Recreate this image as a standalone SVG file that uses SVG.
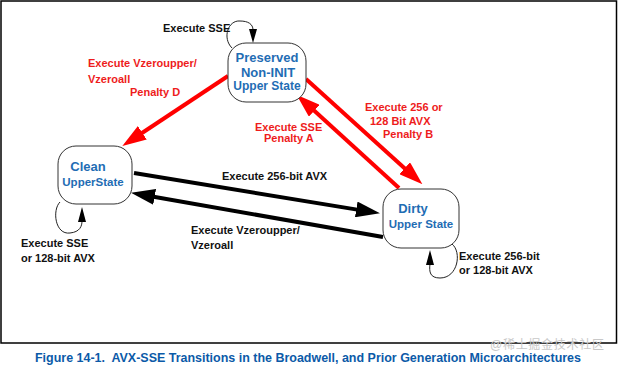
<svg xmlns="http://www.w3.org/2000/svg" width="618" height="368" viewBox="0 0 618 368">
<defs>
<style>
.node rect{fill:#fff;stroke:#333;stroke-width:1}
.nt{font-family:"Liberation Sans",Arial,sans-serif;font-weight:bold;fill:#1f6db4;text-anchor:middle}
.lb{font-family:"Liberation Sans",Arial,sans-serif;font-weight:bold;font-size:11px;fill:#111}
.rl{font-family:"Liberation Sans",Arial,sans-serif;font-weight:bold;font-size:11px;fill:#ee1c1c}
.red{stroke:#ff0000;stroke-width:4;fill:none}
.blk{stroke:#000;stroke-width:4;fill:none}
.thin{stroke:#222;stroke-width:1;fill:none}
</style>
<marker id="ahRed" markerUnits="userSpaceOnUse" markerWidth="24" markerHeight="16" refX="4" refY="8" orient="auto" viewBox="0 0 24 16">
<path d="M0,0 L24,8 L0,16 z" fill="#ff0000"/>
</marker>
<marker id="ahBlk" markerUnits="userSpaceOnUse" markerWidth="24" markerHeight="16" refX="4" refY="8" orient="auto" viewBox="0 0 24 16">
<path d="M0,0 L24,8 L0,16 z" fill="#000"/>
</marker>
</defs>
<rect x="0" y="0" width="618" height="368" fill="#fff"/>
<rect x="1" y="1" width="615.5" height="342" fill="none" stroke="#000" stroke-width="1.5"/>

<g id="connectors">
<line class="red" x1="228" y1="76" x2="139" y2="135" marker-end="url(#ahRed)"/>
<line class="red" x1="306" y1="79" x2="407.6" y2="170.9" marker-end="url(#ahRed)"/>
<line class="red" x1="399" y1="188" x2="311.3" y2="108.1" marker-end="url(#ahRed)"/>
<line class="blk" x1="134" y1="173" x2="360.2" y2="210.1" marker-end="url(#ahBlk)"/>
<line class="blk" x1="383" y1="237" x2="150.7" y2="196.3" marker-end="url(#ahBlk)"/>
<path class="thin" d="M232,48 C222,38 228,20 240,21 C248,21 253,24 253,30"/>
<polygon points="249,29 257,29 253,43" fill="#000"/>
<path class="thin" d="M60,202 C52,210 55,235 70,233 C80,232 82,226 82,221"/>
<polygon points="78,222 86,222 82,207" fill="#000"/>
<path class="thin" d="M452,244 C462,252 458,278 440,278 C430,278 429,272 430,264"/>
<polygon points="426,265 434,265 430,250" fill="#000"/>
</g>

<g id="preserved" class="node">
<rect x="228" y="43" width="78" height="59" rx="18"/>
<text class="nt" x="267" y="62" font-size="13">Preserved</text>
<text class="nt" x="268" y="77" font-size="13">Non-INIT</text>
<text class="nt" x="267" y="90" font-size="12">Upper State</text>
</g>
<g id="clean" class="node">
<rect x="58" y="146" width="74" height="58" rx="18"/>
<text class="nt" x="88" y="171" font-size="13">Clean</text>
<text class="nt" x="93" y="186" font-size="11.5">UpperState</text>
</g>
<g id="dirty" class="node">
<rect x="383" y="189" width="76" height="59" rx="18"/>
<text class="nt" x="413" y="213" font-size="13">Dirty</text>
<text class="nt" x="421" y="228" font-size="11.5">Upper State</text>
</g>

<g id="labels">
<text class="lb" x="163" y="32">Execute SSE</text>
<text class="rl" x="88" y="67">Execute Vzeroupper/</text>
<text class="rl" x="88" y="83">Vzeroall</text>
<text class="rl" x="130" y="96">Penalty D</text>
<text class="rl" x="255" y="131">Execute SSE</text>
<text class="rl" x="264" y="142">Penalty A</text>
<text class="rl" x="365" y="111">Execute 256 or</text>
<text class="rl" x="370" y="125">128 Bit AVX</text>
<text class="rl" x="383" y="138">Penalty B</text>
<text class="lb" x="222" y="180">Execute 256-bit AVX</text>
<text class="lb" x="191" y="234">Execute Vzeroupper/</text>
<text class="lb" x="191" y="249">Vzeroall</text>
<text class="lb" x="21" y="247">Execute SSE</text>
<text class="lb" x="21" y="262">or 128-bit AVX</text>
<text class="lb" x="459" y="260">Execute 256-bit</text>
<text class="lb" x="459" y="274">or 128-bit AVX</text>
</g>

<text x="35" y="362" font-family="'Liberation Sans',Arial,sans-serif" font-weight="bold" font-size="12" fill="#0b5aa8" textLength="546" lengthAdjust="spacingAndGlyphs">Figure 14-1.&#160; AVX-SSE Transitions in the Broadwell, and Prior Generation Microarchitectures</text>
<text x="490" y="349" font-family="'Liberation Sans','Noto Sans CJK SC',sans-serif" font-size="12" fill="#c8c8c8" textLength="114">@稀土掘金技术社区</text>
</svg>
